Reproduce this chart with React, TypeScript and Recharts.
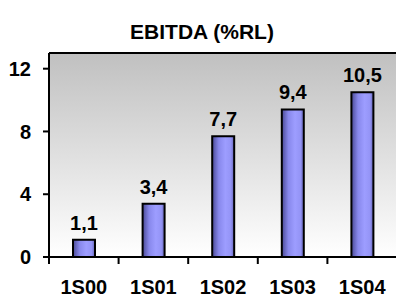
import React from "react";
import { BarChart, Bar, XAxis, YAxis, CartesianGrid, LabelList, ReferenceLine } from "recharts";

const categories = ["1S00", "1S01", "1S02", "1S03", "1S04"];
const ebitda = [1.1, 3.4, 7.7, 9.4, 10.5];
const yTicks = [0, 4, 8, 12];
const yMax = 13;
const title = "EBITDA (%RL)";

const data = categories.map((c, i) => ({ name: c, value: ebitda[i] }));

const W = 396;
const H = 298;
const M = { top: 53, right: -1, bottom: 0, left: 0 };
const Y_AXIS_W = 49;
const X_AXIS_H = 41;
const FONT = "'Liberation Sans', Arial, sans-serif";
const FS = 20;
const BAND = (W - M.left - M.right - Y_AXIS_W) / categories.length;

const XTick = (props: any) => {
  const { x, y, payload } = props;
  const bx = x - BAND / 2;
  return (
    <g>
      <line x1={bx} x2={bx} y1={y} y2={y + 7} stroke="#000" strokeWidth={2} />
      <text x={x} y={y + 37} textAnchor="middle" fontFamily={FONT} fontWeight="bold" fontSize={FS} fill="#000">
        {payload.value}
      </text>
    </g>
  );
};

export default function App() {
  return (
    <div style={{ position: "absolute", left: 0, top: 0, width: W, height: H, background: "#fff" }}>
      <div
        style={{
          position: "absolute",
          left: 0,
          width: 404,
          top: 20,
          textAlign: "center",
          fontFamily: FONT,
          fontWeight: "bold",
          fontSize: 21,
          color: "#000",
          lineHeight: "24px",
        }}
      >
        {title}
      </div>
      <BarChart width={W} height={H} data={data} margin={M} barCategoryGap={0}>
        <defs>
          <linearGradient id="bgGrad" x1="0" y1="0" x2="0" y2="1">
            <stop offset="0%" stopColor="#c0c0c0" />
            <stop offset="100%" stopColor="#ffffff" />
          </linearGradient>
          <linearGradient id="barGrad" x1="0" y1="0" x2="1" y2="0">
            <stop offset="0%" stopColor="#4a4a96" />
            <stop offset="30%" stopColor="#8888ec" />
            <stop offset="60%" stopColor="#9d9dff" />
            <stop offset="85%" stopColor="#9494f6" />
            <stop offset="100%" stopColor="#6464b4" />
          </linearGradient>
        </defs>
        <CartesianGrid fill="url(#bgGrad)" stroke="none" horizontal={false} vertical={false} />
        <XAxis
          dataKey="name"
          height={X_AXIS_H}
          axisLine={{ stroke: "#000", strokeWidth: 2 }}
          tickLine={false}
          tickSize={0}
          tickMargin={0}
          tick={<XTick />}
          interval={0}
        />
        <YAxis
          width={Y_AXIS_W}
          domain={[0, yMax]}
          ticks={yTicks}
          allowDataOverflow
          axisLine={{ stroke: "#000", strokeWidth: 2 }}
          tickLine={{ stroke: "#000", strokeWidth: 2 }}
          tickSize={6}
          tickMargin={12}
          tick={{ fontFamily: FONT, fontWeight: "bold", fontSize: FS, fill: "#000" }}
        />
        <ReferenceLine y={yMax} stroke="#000" strokeWidth={2} ifOverflow="extendDomain" />
        <Bar dataKey="value" barSize={22} fill="url(#barGrad)" stroke="#000" strokeWidth={2} isAnimationActive={false}>
          <LabelList
            dataKey="value"
            position="top"
            offset={10}
            formatter={(v: any) => String(v).replace(".", ",")}
            style={{ fontFamily: FONT, fontWeight: "bold", fontSize: FS, fill: "#000" }}
          />
        </Bar>
      </BarChart>
    </div>
  );
}
